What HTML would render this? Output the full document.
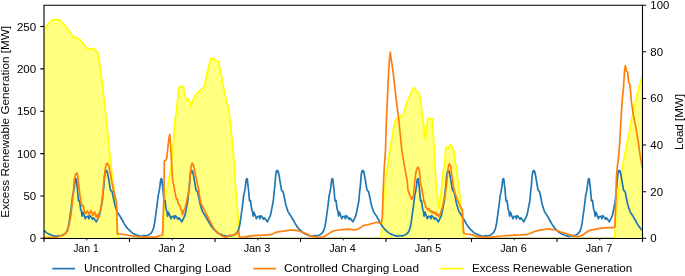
<!DOCTYPE html>
<html><head><meta charset="utf-8">
<style>
html,body{margin:0;padding:0;background:#fff;}
body{width:685px;height:276px;overflow:hidden;}
svg{display:block;will-change:transform;}
.t{font-family:"Liberation Sans",sans-serif;font-size:10.6px;fill:#000;}
</style></head><body>
<svg width="685" height="276" viewBox="0 0 685 276">
<rect x="0" y="0" width="685" height="276" fill="#fff"/>
<g>
<path d="M44 237.95 L44 29 L44.8 28.5 L47.6 24.6 L50.9 21.3 L52.5 20.2 L54.1 19.6 L57 19.5 L59.6 19.8 L61.7 22 L64 24.3 L66.1 26.7 L68.3 29.8 L70.4 32.8 L72 35.5 L73.7 38 L75.5 37.3 L77 37.6 L78.6 38.9 L80.2 40.2 L81.9 42 L83.5 43.7 L85.1 45.9 L86.7 48 L88.3 48.8 L90 49.1 L91.6 48.4 L93.3 48.9 L94.8 49.5 L96.1 50.7 L97.6 52.8 L98.7 58 L99.7 64.5 L101.2 75 L102.6 86.2 L103.9 97 L105.1 108 L106.2 119 L107.3 129.7 L108.4 140 L109.5 150 L110.6 160 L112 174 L113.2 183 L114.2 190 L115 200 L115.9 210 L116.7 220 L117.3 226 L118.2 237 L118.4 237.95 Z" fill="#ffff80" stroke="none"/>
<path d="M163 237.95 L163.1 230 L163.4 220 L163.8 210 L164.3 203 L165.1 198.7 L166.1 193 L167.6 186 L168.9 179 L170.1 172 L171.5 164 L172.1 157 L172.6 150 L173.6 140 L174.1 133 L174.4 126 L175.3 118 L176.7 110 L177.2 103 L177.8 96.3 L178.6 88.2 L179.2 87.4 L180.5 86.7 L181.8 86.7 L182.7 86 L183.6 88.2 L184.3 92 L185.4 96.3 L186.5 99.6 L187.6 100.1 L188.1 99.3 L189.2 100.7 L190.1 101.7 L190.8 106.6 L191.9 103.4 L193 99.6 L194.1 97.4 L195.7 94.7 L197.4 93 L199.7 91 L201.3 89.6 L203 87.8 L204.6 85.9 L205.4 81 L206.3 76.1 L207.3 72 L208.4 67.9 L209.2 64 L210.4 60 L210.9 58.4 L213.6 58.4 L214.4 60.4 L218 61.2 L218.7 62.4 L219.9 67.9 L221.1 74 L223 84.8 L225.2 95.7 L226.4 100 L227.6 105 L229.5 116.3 L231.4 132.6 L233 148.9 L234.1 162.5 L234.6 170 L235.9 190.3 L237.7 210.6 L238.8 225.8 L239.4 236.8 L239.5 237.95 Z" fill="#ffff80" stroke="none"/>
<path d="M380.9 237.95 L381.4 232 L382 224 L382.6 215 L383.4 203 L383.9 195 L385.1 184 L386.3 174.5 L387.6 166 L388.8 158.2 L389.5 152 L390.2 148 L391.6 140.7 L392.6 134.5 L393.4 130 L394.3 125.5 L395.1 121.7 L396.7 118.5 L398.9 117.4 L401 115.8 L403.2 114.7 L404.3 110.9 L405.4 106.5 L407 102.2 L407.8 100 L409.2 97.7 L411.7 91.4 L413 89 L414.2 87.6 L415.5 89.5 L416.8 91.4 L419.3 94 L420.3 99 L421.1 105.3 L422.2 113.5 L423.1 120.5 L424.1 130 L425.1 139.5 L426.3 130 L427 124 L427.6 119.3 L428.5 118.3 L429.4 118 L430.7 118.8 L432 118.5 L432.7 125 L433.5 137 L434.1 147 L434.8 162.6 L435.9 180 L437 192 L438 200 L439.1 207.8 L440.2 200 L441.3 190 L442 182 L442.8 173.5 L444.3 165 L445.1 157.6 L445.8 148.3 L446.7 146.7 L447.8 148.3 L448.9 147.2 L449.7 144.7 L450.5 144.5 L451.6 146.2 L453.2 148.9 L454.1 152.1 L454.8 157.6 L455.5 163 L456.2 167.2 L457.4 176.2 L458.5 185.3 L459.2 190 L460.4 201 L462 217 L463.6 233 L464 237.95 Z" fill="#ffff80" stroke="none"/>
<path d="M614.5 237.95 L614.8 236 L615.3 227 L615.8 218 L616.8 207 L617.8 197.7 L619 188.5 L620.1 180.3 L621.3 173 L622.5 165.8 L623.5 161 L626 148 L628.6 135.4 L630.9 123 L633 112 L635.2 102.5 L637.3 94 L639.3 86 L641.3 79 L642.5 75.5 L642.5 237.95 Z" fill="#ffff80" stroke="none"/>
</g>
<path d="M118.4 237.5 H163 M239.5 237.5 H380.9 M464 237.5 H614.5" fill="none" stroke="#d7d796" stroke-width="1"/>
<path d="M44 29 L44.8 28.5 L47.6 24.6 L50.9 21.3 L52.5 20.2 L54.1 19.6 L57 19.5 L59.6 19.8 L61.7 22 L64 24.3 L66.1 26.7 L68.3 29.8 L70.4 32.8 L72 35.5 L73.7 38 L75.5 37.3 L77 37.6 L78.6 38.9 L80.2 40.2 L81.9 42 L83.5 43.7 L85.1 45.9 L86.7 48 L88.3 48.8 L90 49.1 L91.6 48.4 L93.3 48.9 L94.8 49.5 L96.1 50.7 L97.6 52.8 L98.7 58 L99.7 64.5 L101.2 75 L102.6 86.2 L103.9 97 L105.1 108 L106.2 119 L107.3 129.7 L108.4 140 L109.5 150 L110.6 160 L112 174 L113.2 183 L114.2 190 L115 200 L115.9 210 L116.7 220 L117.3 226 L118.2 237 L118.4 237.95 M163 237.95 L163.1 230 L163.4 220 L163.8 210 L164.3 203 L165.1 198.7 L166.1 193 L167.6 186 L168.9 179 L170.1 172 L171.5 164 L172.1 157 L172.6 150 L173.6 140 L174.1 133 L174.4 126 L175.3 118 L176.7 110 L177.2 103 L177.8 96.3 L178.6 88.2 L179.2 87.4 L180.5 86.7 L181.8 86.7 L182.7 86 L183.6 88.2 L184.3 92 L185.4 96.3 L186.5 99.6 L187.6 100.1 L188.1 99.3 L189.2 100.7 L190.1 101.7 L190.8 106.6 L191.9 103.4 L193 99.6 L194.1 97.4 L195.7 94.7 L197.4 93 L199.7 91 L201.3 89.6 L203 87.8 L204.6 85.9 L205.4 81 L206.3 76.1 L207.3 72 L208.4 67.9 L209.2 64 L210.4 60 L210.9 58.4 L213.6 58.4 L214.4 60.4 L218 61.2 L218.7 62.4 L219.9 67.9 L221.1 74 L223 84.8 L225.2 95.7 L226.4 100 L227.6 105 L229.5 116.3 L231.4 132.6 L233 148.9 L234.1 162.5 L234.6 170 L235.9 190.3 L237.7 210.6 L238.8 225.8 L239.4 236.8 L239.5 237.95 M380.9 237.95 L381.4 232 L382 224 L382.6 215 L383.4 203 L383.9 195 L385.1 184 L386.3 174.5 L387.6 166 L388.8 158.2 L389.5 152 L390.2 148 L391.6 140.7 L392.6 134.5 L393.4 130 L394.3 125.5 L395.1 121.7 L396.7 118.5 L398.9 117.4 L401 115.8 L403.2 114.7 L404.3 110.9 L405.4 106.5 L407 102.2 L407.8 100 L409.2 97.7 L411.7 91.4 L413 89 L414.2 87.6 L415.5 89.5 L416.8 91.4 L419.3 94 L420.3 99 L421.1 105.3 L422.2 113.5 L423.1 120.5 L424.1 130 L425.1 139.5 L426.3 130 L427 124 L427.6 119.3 L428.5 118.3 L429.4 118 L430.7 118.8 L432 118.5 L432.7 125 L433.5 137 L434.1 147 L434.8 162.6 L435.9 180 L437 192 L438 200 L439.1 207.8 L440.2 200 L441.3 190 L442 182 L442.8 173.5 L444.3 165 L445.1 157.6 L445.8 148.3 L446.7 146.7 L447.8 148.3 L448.9 147.2 L449.7 144.7 L450.5 144.5 L451.6 146.2 L453.2 148.9 L454.1 152.1 L454.8 157.6 L455.5 163 L456.2 167.2 L457.4 176.2 L458.5 185.3 L459.2 190 L460.4 201 L462 217 L463.6 233 L464 237.95 M614.5 237.95 L614.8 236 L615.3 227 L615.8 218 L616.8 207 L617.8 197.7 L619 188.5 L620.1 180.3 L621.3 173 L622.5 165.8 L623.5 161 L626 148 L628.6 135.4 L630.9 123 L633 112 L635.2 102.5 L637.3 94 L639.3 86 L641.3 79 L642.5 75.5" fill="none" stroke="#ffff00" stroke-width="1.7" stroke-linejoin="round" stroke-linecap="butt"/>
<path d="M44 230.4 L46.4 232.6 L48.5 233.9 L50.7 234.8 L53 235.7 L55.1 236.2 L56.6 236.4 L58 235.5 L59.5 235.9 L60.9 235.9 L62 235.2 L63.4 234.8 L64.7 234 L66 232.6 L67.2 230.5 L68.2 227.5 L69 223.5 L69.7 218.8 L70.4 213.5 L71.1 208.7 L71.8 203 L72.7 195.4 L73.4 192.5 L74.2 188.2 L74.8 183 L75 180.9 L75.4 179.5 L75.7 178.6 L75.9 179.6 L76.3 178.9 L76.8 183.8 L77.4 188.5 L78 195.5 L78.5 201 L79.5 200.5 L80 204.1 L80.6 209.1 L81.4 211.2 L82.1 216.2 L82.8 212.2 L83.6 213.7 L84.4 216.2 L85.4 218.8 L86.1 216.7 L87.1 216.7 L88.2 216.2 L88.9 218.8 L89.7 215.7 L90.7 216.7 L91.7 217.8 L92.5 219.3 L93.2 217.8 L94.2 218.8 L95.2 220.3 L96.3 221.8 L97.3 219.8 L98.3 217.8 L99.3 215.7 L100.3 211.2 L101.3 206.1 L102.3 201 L103.1 192 L103.8 186.7 L104.3 180 L104.8 174.5 L105.4 171.5 L106 170.5 L106.5 171.8 L107 171 L107.7 173.7 L108.4 177.5 L109.2 182.4 L109.9 186.5 L110.6 190.4 L111.3 190.8 L112.1 191.8 L112.8 195 L113.5 198.3 L114.2 201.8 L114.9 205 L116 208.5 L117 211.6 L118.4 213.8 L119.9 215.9 L121.3 218.5 L122.8 221 L124.2 223.6 L125.7 226.1 L127.2 228 L128.6 229.7 L129.5 230.4 L131.9 232.6 L134 233.9 L136.2 234.8 L138.5 235.7 L140.6 236.2 L142.1 236.4 L143.5 235.5 L145 235.9 L146.4 235.9 L147.5 235.2 L148.9 234.8 L150.2 234 L151.5 232.6 L152.7 230.5 L153.7 227.5 L154.5 223.5 L155.2 218.8 L155.9 213.5 L156.6 208.7 L157.3 203 L158.2 195.4 L158.9 192.5 L159.7 188.2 L160.3 183 L160.5 180.9 L160.9 179.5 L161.2 178.6 L161.4 179.6 L161.8 178.9 L162.3 183.8 L162.9 188.5 L163.5 195.5 L164 201 L165 200.5 L165.5 204.1 L166.1 209.1 L166.9 211.2 L167.6 216.2 L168.3 212.2 L169.1 213.7 L169.9 216.2 L170.9 218.8 L171.6 216.7 L172.6 216.7 L173.7 216.2 L174.4 218.8 L175.2 215.7 L176.2 216.7 L177.2 217.8 L178 219.3 L178.7 217.8 L179.7 218.8 L180.7 220.3 L181.8 221.8 L182.8 219.8 L183.8 217.8 L184.8 215.7 L185.8 211.2 L186.8 206.1 L187.8 201 L188.6 192 L189.3 186.7 L189.8 180 L190.3 174.5 L190.9 171.5 L191.5 170.5 L192 171.8 L192.5 171 L193.2 173.7 L193.9 177.5 L194.7 182.4 L195.4 186.5 L196.1 190.4 L196.8 190.8 L197.6 191.8 L198.3 195 L199 198.3 L199.7 201.8 L200.4 205 L201.5 208.5 L202.5 211.6 L203.9 213.8 L205.4 215.9 L206.8 218.5 L208.3 221 L209.7 223.6 L211.2 226.1 L212.7 228 L214.1 229.7 L215 230.4 L217.4 232.6 L219.5 233.9 L221.7 234.8 L224 235.7 L226.1 236.2 L227.6 236.4 L229 235.5 L230.5 235.9 L231.9 235.9 L233 235.2 L234.4 234.8 L235.7 234 L237 232.6 L238.2 230.5 L239.2 227.5 L240 223.5 L240.7 218.8 L241.4 213.5 L242.1 208.7 L242.8 203 L243.7 195.4 L244.4 192.5 L245.2 188.2 L245.8 183 L246 180.9 L246.4 179.5 L246.7 178.6 L246.9 179.6 L247.3 178.9 L247.8 183.8 L248.4 188.5 L249 195.5 L249.5 201 L250.5 200.5 L251 204.1 L251.6 209.1 L252.4 211.2 L253.1 216.2 L253.8 212.2 L254.6 213.7 L255.4 216.2 L256.4 218.8 L257.1 216.7 L258.1 216.7 L259.2 216.2 L259.9 218.8 L260.7 215.7 L261.7 216.7 L262.7 217.8 L263.5 219.3 L264.2 217.8 L265.2 218.8 L266.2 220.3 L267.3 221.8 L268.3 219.8 L269.3 217.8 L270.3 215.7 L271.3 211.2 L272.3 206.1 L273.3 201 L274.1 192 L274.8 186.7 L275.3 180 L275.8 174.5 L276.4 171.5 L277 170.5 L277.5 171.8 L278 171 L278.7 173.7 L279.4 177.5 L280.2 182.4 L280.9 186.5 L281.6 190.4 L282.3 190.8 L283.1 191.8 L283.8 195 L284.5 198.3 L285.2 201.8 L285.9 205 L287 208.5 L288 211.6 L289.4 213.8 L290.9 215.9 L292.3 218.5 L293.8 221 L295.2 223.6 L296.7 226.1 L298.2 228 L299.6 229.7 L300.5 230.4 L302.9 232.6 L305 233.9 L307.2 234.8 L309.5 235.7 L311.6 236.2 L313.1 236.4 L314.5 235.5 L316 235.9 L317.4 235.9 L318.5 235.2 L319.9 234.8 L321.2 234 L322.5 232.6 L323.7 230.5 L324.7 227.5 L325.5 223.5 L326.2 218.8 L326.9 213.5 L327.6 208.7 L328.3 203 L329.2 195.4 L329.9 192.5 L330.7 188.2 L331.3 183 L331.5 180.9 L331.9 179.5 L332.2 178.6 L332.4 179.6 L332.8 178.9 L333.3 183.8 L333.9 188.5 L334.5 195.5 L335 201 L336 200.5 L336.5 204.1 L337.1 209.1 L337.9 211.2 L338.6 216.2 L339.3 212.2 L340.1 213.7 L340.9 216.2 L341.9 218.8 L342.6 216.7 L343.6 216.7 L344.7 216.2 L345.4 218.8 L346.2 215.7 L347.2 216.7 L348.2 217.8 L349 219.3 L349.7 217.8 L350.7 218.8 L351.7 220.3 L352.8 221.8 L353.8 219.8 L354.8 217.8 L355.8 215.7 L356.8 211.2 L357.8 206.1 L358.8 201 L359.6 192 L360.3 186.7 L360.8 180 L361.3 174.5 L361.9 171.5 L362.5 170.5 L363 171.8 L363.5 171 L364.2 173.7 L364.9 177.5 L365.7 182.4 L366.4 186.5 L367.1 190.4 L367.8 190.8 L368.6 191.8 L369.3 195 L370 198.3 L370.7 201.8 L371.4 205 L372.5 208.5 L373.5 211.6 L374.9 213.8 L376.4 215.9 L377.8 218.5 L379.3 221 L380.7 223.6 L382.2 226.1 L383.7 228 L385.1 229.7 L386 230.4 L388.4 232.6 L390.5 233.9 L392.7 234.8 L395 235.7 L397.1 236.2 L398.6 236.4 L400 235.5 L401.5 235.9 L402.9 235.9 L404 235.2 L405.4 234.8 L406.7 234 L408 232.6 L409.2 230.5 L410.2 227.5 L411 223.5 L411.7 218.8 L412.4 213.5 L413.1 208.7 L413.8 203 L414.7 195.4 L415.4 192.5 L416.2 188.2 L416.8 183 L417 180.9 L417.4 179.5 L417.7 178.6 L417.9 179.6 L418.3 178.9 L418.8 183.8 L419.4 188.5 L420 195.5 L420.5 201 L421.5 200.5 L422 204.1 L422.6 209.1 L423.4 211.2 L424.1 216.2 L424.8 212.2 L425.6 213.7 L426.4 216.2 L427.4 218.8 L428.1 216.7 L429.1 216.7 L430.2 216.2 L430.9 218.8 L431.7 215.7 L432.7 216.7 L433.7 217.8 L434.5 219.3 L435.2 217.8 L436.2 218.8 L437.2 220.3 L438.3 221.8 L439.3 219.8 L440.3 217.8 L441.3 215.7 L442.3 211.2 L443.3 206.1 L444.3 201 L445.1 192 L445.8 186.7 L446.3 180 L446.8 174.5 L447.4 171.5 L448 170.5 L448.5 171.8 L449 171 L449.7 173.7 L450.4 177.5 L451.2 182.4 L451.9 186.5 L452.6 190.4 L453.3 190.8 L454.1 191.8 L454.8 195 L455.5 198.3 L456.2 201.8 L456.9 205 L458 208.5 L459 211.6 L460.4 213.8 L461.9 215.9 L463.3 218.5 L464.8 221 L466.2 223.6 L467.7 226.1 L469.2 228 L470.6 229.7 L471.5 230.4 L473.9 232.6 L476 233.9 L478.2 234.8 L480.5 235.7 L482.6 236.2 L484.1 236.4 L485.5 235.5 L487 235.9 L488.4 235.9 L489.5 235.2 L490.9 234.8 L492.2 234 L493.5 232.6 L494.7 230.5 L495.7 227.5 L496.5 223.5 L497.2 218.8 L497.9 213.5 L498.6 208.7 L499.3 203 L500.2 195.4 L500.9 192.5 L501.7 188.2 L502.3 183 L502.5 180.9 L502.9 179.5 L503.2 178.6 L503.4 179.6 L503.8 178.9 L504.3 183.8 L504.9 188.5 L505.5 195.5 L506 201 L507 200.5 L507.5 204.1 L508.1 209.1 L508.9 211.2 L509.6 216.2 L510.3 212.2 L511.1 213.7 L511.9 216.2 L512.9 218.8 L513.6 216.7 L514.6 216.7 L515.7 216.2 L516.4 218.8 L517.2 215.7 L518.2 216.7 L519.2 217.8 L520 219.3 L520.7 217.8 L521.7 218.8 L522.7 220.3 L523.8 221.8 L524.8 219.8 L525.8 217.8 L526.8 215.7 L527.8 211.2 L528.8 206.1 L529.8 201 L530.6 192 L531.3 186.7 L531.8 180 L532.3 174.5 L532.9 171.5 L533.5 170.5 L534 171.8 L534.5 171 L535.2 173.7 L535.9 177.5 L536.7 182.4 L537.4 186.5 L538.1 190.4 L538.8 190.8 L539.6 191.8 L540.3 195 L541 198.3 L541.7 201.8 L542.4 205 L543.5 208.5 L544.5 211.6 L545.9 213.8 L547.4 215.9 L548.8 218.5 L550.3 221 L551.7 223.6 L553.2 226.1 L554.7 228 L556.1 229.7 L557 230.4 L559.4 232.6 L561.5 233.9 L563.7 234.8 L566 235.7 L568.1 236.2 L569.6 236.4 L571 235.5 L572.5 235.9 L573.9 235.9 L575 235.2 L576.4 234.8 L577.7 234 L579 232.6 L580.2 230.5 L581.2 227.5 L582 223.5 L582.7 218.8 L583.4 213.5 L584.1 208.7 L584.8 203 L585.7 195.4 L586.4 192.5 L587.2 188.2 L587.8 183 L588 180.9 L588.4 179.5 L588.7 178.6 L588.9 179.6 L589.3 178.9 L589.8 183.8 L590.4 188.5 L591 195.5 L591.5 201 L592.5 200.5 L593 204.1 L593.6 209.1 L594.4 211.2 L595.1 216.2 L595.8 212.2 L596.6 213.7 L597.4 216.2 L598.4 218.8 L599.1 216.7 L600.1 216.7 L601.2 216.2 L601.9 218.8 L602.7 215.7 L603.7 216.7 L604.7 217.8 L605.5 219.3 L606.2 217.8 L607.2 218.8 L608.2 220.3 L609.3 221.8 L610.3 219.8 L611.3 217.8 L612.3 215.7 L613.3 211.2 L614.3 206.1 L615.3 201 L616.1 192 L616.8 186.7 L617.3 180 L617.8 174.5 L618.4 171.5 L619 170.5 L619.5 171.8 L620 171 L620.7 173.7 L621.4 177.5 L622.2 182.4 L622.9 186.5 L623.6 190.4 L624.3 190.8 L625.1 191.8 L625.8 195 L626.5 198.3 L627.2 201.8 L627.9 205 L629 208.5 L630 211.6 L631.4 213.8 L632.9 215.9 L634.3 218.5 L635.8 221 L637.2 223.6 L638.7 226.1 L640.2 228 L641.6 229.7 L642.5 230.4" fill="none" stroke="#1f77b4" stroke-width="1.7" stroke-linejoin="round" stroke-linecap="butt"/>
<path d="M44 237.7 L50 237.7 L57.6 237.6 L58.5 236.3 L60.5 235.9 L62.8 235.3 L65.5 233.3 L67.6 230.9 L69 225.5 L70 220 L71 214.5 L72 205 L73 196 L73.6 189 L74.4 178.8 L75.6 174.5 L76.8 173 L77.8 176 L78.5 183.2 L79.7 193.3 L80.9 201.8 L82.3 206.3 L83 205.5 L83.6 206.8 L84.5 212 L85.5 213.8 L87.2 210.9 L89 214.4 L90.9 210.6 L92.7 215.5 L94.5 211.8 L96.2 217 L97.2 214.6 L97.9 219 L99.1 213.8 L100.4 210.5 L101.4 206 L102.4 198 L103.4 186 L104.2 178 L104.9 171.6 L105.6 167.5 L106.3 164.3 L107 164 L107.5 163.2 L108.2 165 L108.9 165.8 L109.6 170 L110.4 173 L111.1 178 L111.8 181.7 L112.6 186 L113.3 189 L114 192 L114.7 194.8 L115.5 198 L116.4 201.5 L116.9 210 L117.3 234 L120.3 234 L124.6 234.5 L129 235.5 L134.8 236.2 L140.6 237 L147 237.2 L152.2 237.2 L155.9 236.9 L159.5 235.8 L162.4 235 L162.6 233.5 L163 224 L163.6 205 L164.1 190 L164.3 161 L166 160 L166.8 158 L168.2 144.5 L169 138 L169.7 134.3 L170.3 141 L170.9 150 L171.6 163 L172.2 174.3 L173 182.7 L173.8 185 L175 192.2 L176 197.3 L176.7 199.5 L177.4 198.8 L178.1 203.1 L179.3 205.3 L180.3 206.7 L181 209.6 L181.8 210.4 L182.5 214.7 L183.2 212.5 L183.9 210.4 L185.1 208.2 L186.1 203.8 L187.6 196.6 L189 190.8 L189.6 184 L190.3 174 L190.9 167.5 L191.6 164.5 L192.3 163.2 L192.9 164 L193.5 165.8 L194.2 168.5 L194.9 171.6 L195.8 176 L196.7 180.3 L197.6 185 L198.6 189 L199.3 194 L200.1 199.5 L200.9 203.2 L202.5 206.4 L203.7 209 L205 211.3 L206.2 213.5 L207.4 216.2 L209 219.5 L210.7 222.7 L212.3 225.8 L213.9 228.4 L215.5 230.5 L217.2 232.5 L219.2 234 L221.3 235.4 L223.3 236.4 L225.3 237.1 L227 237 L228.6 236.6 L230.2 235 L231.4 235.8 L232.7 235.4 L234.3 234.8 L236 234.1 L237.5 232.8 L238.7 231.2 L239.3 237 L244.9 236.9 L251.4 235.8 L256 235.4 L260.5 235.4 L267.7 234.8 L272.1 234.4 L275 232.6 L279.3 231.6 L283.7 231.2 L288 230.4 L290.9 230 L293.8 230.1 L296.7 230.4 L299.6 231.2 L302.5 232.2 L306 233.6 L308.7 235.1 L313 236.5 L317.4 237 L321.7 237 L324.6 236.2 L327.5 234.5 L330.4 232.6 L333.5 231 L336 230.5 L339.3 230 L344.1 229.4 L348.9 229.1 L353.7 229.8 L356.6 229.6 L358.5 228.8 L360.5 227.6 L363.4 225.5 L368.2 224.6 L373 223.3 L376.8 222.3 L379.7 222.8 L381.2 223.3 L381.7 221 L382.3 217.2 L383 195 L384.3 166.3 L385.5 150 L386.3 123.3 L387.6 95 L388.5 74.8 L389.4 60 L390.2 52 L391 58 L392.2 66 L393.5 74.8 L395.7 95 L398.9 121.1 L401.8 150 L403.4 159.8 L405.1 169.6 L407.2 181 L408 190 L409.9 195.4 L410.8 197.5 L411.7 199.1 L412.6 197.5 L413.5 195.4 L414.2 188 L414.8 181 L415.7 174 L416.5 169.6 L417.3 168 L418.1 167.1 L418.7 168.5 L419.2 169.6 L419.9 176 L420.5 182.6 L421.2 186 L421.9 189.1 L422.9 195 L424 201.5 L425.1 203.7 L425.6 207 L426.7 208 L427.8 209.7 L428.9 208.6 L430 211.3 L431 210.8 L432.1 212.9 L433.2 211.3 L434.3 213.5 L435.4 212.4 L436.5 215.1 L437.6 214 L438.7 216.7 L439.7 215.1 L440.8 212.4 L441.9 209.1 L443 204.8 L444.1 199.3 L445.2 195 L445.9 190 L446.9 182 L447.8 171.3 L448.5 166 L449.3 163.7 L450 165 L450.7 165.9 L451.5 173.5 L452.2 178 L452.8 182.2 L453.7 188 L454.9 193 L456 196 L457.9 200.9 L459 203.5 L460.4 207 L461.5 208.5 L462.4 210 L463 221 L463.6 233 L466 234 L472 234.6 L474.8 235.8 L480 236.8 L488 237.3 L496.3 236.5 L501.2 236 L507.7 235.5 L514.2 235.2 L520.7 234.9 L527.3 234.3 L530.5 233.3 L533.8 231.7 L538.7 230.4 L543.5 229.7 L546.8 228.8 L551.7 229.3 L555.8 230 L559.9 231.7 L565.6 233.4 L571.3 235.2 L576.2 236.4 L579.1 236.5 L583 234.9 L586.8 232 L589.7 230.3 L594.5 229.4 L599.4 228.4 L604.2 227.8 L609 227.6 L613.8 227.6 L614.8 227 L615.3 215 L615.7 203.5 L616.4 177.4 L617.5 165 L618.2 160 L619.5 146.2 L620.9 121.7 L622.2 100 L623.5 87.6 L624.6 69.5 L625.5 65.5 L626.4 71.3 L627.6 72.2 L628.6 82.2 L629.8 84 L630.9 94.9 L631.2 100 L633.1 113.6 L635.8 127.2 L638.5 143.5 L640.4 157.1 L642.5 168" fill="none" stroke="#ff7f0e" stroke-width="1.7" stroke-linejoin="round" stroke-linecap="butt"/>
<path d="M44 5.2 H642.5 M44 5.2 V238.8 M642.5 5.2 V238.8" fill="none" stroke="#000" stroke-width="1.1" stroke-linecap="square"/>
<path d="M43.45 238.5 H643.05" fill="none" stroke="#000" stroke-width="1"/>
<path d="M40.3 238.3 H44 M40.3 195.94 H44 M40.3 153.58 H44 M40.3 111.22 H44 M40.3 68.86 H44 M40.3 26.5 H44 M642.5 238.3 H646.2 M642.5 191.68 H646.2 M642.5 145.06 H646.2 M642.5 98.44 H646.2 M642.5 51.82 H646.2 M642.5 5.2 H646.2 M44 238.3 V242 M129.5 238.3 V242 M215 238.3 V242 M300.5 238.3 V242 M386 238.3 V242 M471.5 238.3 V242 M557 238.3 V242 M642.5 238.3 V242" stroke="#000" stroke-width="1.1" fill="none"/>
<path d="M86.75 238.3 V240.4 M172.25 238.3 V240.4 M257.75 238.3 V240.4 M343.25 238.3 V240.4 M428.75 238.3 V240.4 M514.25 238.3 V240.4 M599.75 238.3 V240.4" stroke="#000" stroke-width="0.8" fill="none"/>
<text x="36.2" y="242.3" text-anchor="end" textLength="6.4" lengthAdjust="spacingAndGlyphs" class="t">0</text>
<text x="36.2" y="199.94" text-anchor="end" textLength="12.7" lengthAdjust="spacingAndGlyphs" class="t">50</text>
<text x="36.2" y="157.58" text-anchor="end" textLength="19.3" lengthAdjust="spacingAndGlyphs" class="t">100</text>
<text x="36.2" y="115.22" text-anchor="end" textLength="19.3" lengthAdjust="spacingAndGlyphs" class="t">150</text>
<text x="36.2" y="72.86" text-anchor="end" textLength="19.3" lengthAdjust="spacingAndGlyphs" class="t">200</text>
<text x="36.2" y="30.5" text-anchor="end" textLength="19.3" lengthAdjust="spacingAndGlyphs" class="t">250</text>
<text x="650.3" y="242.3" textLength="6.4" lengthAdjust="spacingAndGlyphs" class="t">0</text>
<text x="650.3" y="195.68" textLength="12.7" lengthAdjust="spacingAndGlyphs" class="t">20</text>
<text x="650.3" y="149.06" textLength="12.7" lengthAdjust="spacingAndGlyphs" class="t">40</text>
<text x="650.3" y="102.44" textLength="12.7" lengthAdjust="spacingAndGlyphs" class="t">60</text>
<text x="650.3" y="55.82" textLength="12.7" lengthAdjust="spacingAndGlyphs" class="t">80</text>
<text x="650.3" y="9.2" textLength="19" lengthAdjust="spacingAndGlyphs" class="t">100</text>
<text x="73.15" y="251.8" textLength="25.6" lengthAdjust="spacingAndGlyphs" class="t">Jan 1</text>
<text x="158.15" y="251.8" textLength="26.6" lengthAdjust="spacingAndGlyphs" class="t">Jan 2</text>
<text x="243.65" y="251.8" textLength="26.6" lengthAdjust="spacingAndGlyphs" class="t">Jan 3</text>
<text x="329.15" y="251.8" textLength="26.6" lengthAdjust="spacingAndGlyphs" class="t">Jan 4</text>
<text x="414.65" y="251.8" textLength="26.6" lengthAdjust="spacingAndGlyphs" class="t">Jan 5</text>
<text x="500.15" y="251.8" textLength="26.6" lengthAdjust="spacingAndGlyphs" class="t">Jan 6</text>
<text x="585.65" y="251.8" textLength="26.6" lengthAdjust="spacingAndGlyphs" class="t">Jan 7</text>
<text class="t" transform="translate(9.2,217.7) rotate(-90)" textLength="191.8" lengthAdjust="spacingAndGlyphs">Excess Renewable Generation [MW]</text>
<text class="t" transform="translate(682.8,149.9) rotate(-90)" textLength="55.8" lengthAdjust="spacingAndGlyphs">Load [MW]</text>
<path d="M52.4 268.6 H75.0" stroke="#1f77b4" stroke-width="1.7"/>
<text class="t" x="84.0" y="271.9" textLength="147.2" lengthAdjust="spacingAndGlyphs">Uncontrolled Charging Load</text>
<path d="M253.2 268.6 H275.8" stroke="#ff7f0e" stroke-width="1.7"/>
<text class="t" x="283.9" y="271.9" textLength="135.1" lengthAdjust="spacingAndGlyphs">Controlled Charging Load</text>
<path d="M440.2 268.6 H463.9" stroke="#ffff00" stroke-width="1.7"/>
<text class="t" x="472.0" y="271.9" textLength="160.3" lengthAdjust="spacingAndGlyphs">Excess Renewable Generation</text>
</svg>
</body></html>
